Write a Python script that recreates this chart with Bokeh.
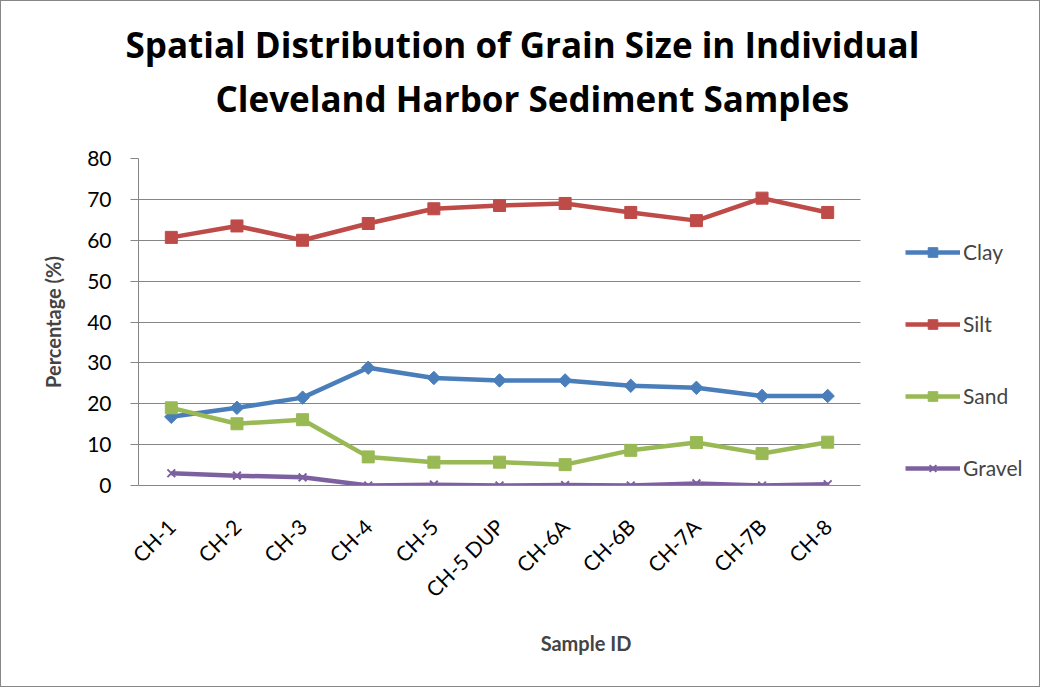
import math
from bokeh.plotting import figure
from bokeh.models import (Range1d, Legend, LegendItem, SingleIntervalTicker, FixedTicker, Title, Grid)
from bokeh.embed import file_html
from bokeh.resources import INLINE

samples = ["CH-1", "CH-2", "CH-3", "CH-4", "CH-5", "CH-5 DUP", "CH-6A", "CH-6B", "CH-7A", "CH-7B", "CH-8"]
clay = [16.8, 19.0, 21.5, 28.8, 26.3, 25.7, 25.7, 24.4, 23.9, 21.9, 21.9]
silt = [60.7, 63.5, 60.0, 64.1, 67.7, 68.5, 69.0, 66.8, 64.8, 70.3, 66.8]
sand = [19.0, 15.1, 16.1, 7.0, 5.7, 5.7, 5.1, 8.6, 10.5, 7.8, 10.6]
gravel = [3.0, 2.4, 2.0, 0.0, 0.2, 0.0, 0.1, 0.0, 0.5, 0.0, 0.3]

FONT = "Lato"
TFONT = "Open Sans"
GRID = "#868686"

W, H = 1040, 687
BL, BR, BT, BB = 137, 8, 157, 203
PLOT_W = 722                      # width of the category area in px
N = len(samples)
xpos = [i + 0.5 for i in range(N)]
x_end = N * (W - BL - BR) / PLOT_W  # frame extends right to hold the legend

p = figure(width=W, height=H, x_range=Range1d(0, x_end), y_range=Range1d(0, 80),
           output_backend="svg", toolbar_location=None,
           min_border_left=BL, min_border_right=BR, min_border_top=BT, min_border_bottom=BB)
p.styles = {"border": "1px solid #878787"}
p.outline_line_color = None
p.background_fill_color = "white"
p.border_fill_color = "white"

p.xgrid.grid_line_color = None
p.ygrid.grid_line_color = GRID
p.ygrid.grid_line_width = 1
if "cross_bounds" in Grid.properties():
    p.ygrid.cross_bounds = (0, N)
p.yaxis.ticker = SingleIntervalTicker(interval=10)
p.yaxis.minor_tick_line_color = None
p.yaxis.major_tick_in = 0
p.yaxis.major_tick_out = 8
p.yaxis.major_tick_line_color = GRID
p.yaxis.axis_line_color = GRID
p.yaxis.major_label_standoff = 19
p.yaxis.major_label_text_font = FONT
p.yaxis.major_label_text_font_size = "21px"
p.yaxis.major_label_text_color = "black"
p.yaxis.axis_label = "Percentage (%)"
p.yaxis.axis_label_text_font = FONT
p.yaxis.axis_label_text_font_style = "bold"
p.yaxis.axis_label_text_font_size = "20px"
p.yaxis.axis_label_standoff = 19

p.xaxis.ticker = FixedTicker(ticks=xpos)
p.xaxis.major_label_overrides = {x: s for x, s in zip(xpos, samples)}
p.xaxis.bounds = (0, N)
p.xaxis.axis_line_color = GRID
p.xaxis.major_tick_line_color = None
p.xaxis.minor_tick_line_color = None
p.xaxis.major_label_orientation = math.pi / 4
p.xaxis.major_label_text_font = FONT
p.xaxis.major_label_text_font_size = "21px"
p.xaxis.major_label_text_color = "black"
p.xaxis.major_label_standoff = 31
p.xaxis.axis_label = "Sample ID"
p.xaxis.axis_label_text_font = FONT
p.xaxis.axis_label_text_font_style = "bold"
p.xaxis.axis_label_text_font_size = "20px"
p.xaxis.axis_label_standoff = 18

series = [
    ("Clay", clay, "#4A7EBB", "square", 9.5, math.pi / 4),
    ("Silt", silt, "#BE4B48", "square", 12, 0),
    ("Sand", sand, "#98B954", "square", 12, 0),
    ("Gravel", gravel, "#7D60A0", "x", 11, 0),
]
items = []
for name, vals, col, mk, sz, ang in series:
    ln = p.line(xpos, vals, line_color=col, line_width=4.5)
    if mk == "x":
        sc = p.scatter(xpos, vals, marker=mk, size=sz, line_color=col, line_width=2)
    else:
        sc = p.scatter(xpos, vals, marker=mk, size=sz, angle=ang, fill_color=col, line_color=col)
    items.append(LegendItem(label=name, renderers=[ln, sc]))

legend = Legend(items=items, location=(767, 5), orientation="vertical",
                glyph_width=55, glyph_height=24, label_height=24, spacing=47,
                padding=0, margin=0, label_standoff=3,
                label_text_font=FONT, label_text_font_size="21px",
                border_line_color=None, background_fill_alpha=0)
p.add_layout(legend, "center")

# spacer between the frame and the two title lines
p.add_layout(Title(text=" ", text_font_size="31px", standoff=0), "above")
p.add_layout(Title(text="Cleveland Harbor Sediment Samples", align="left", offset=77,
                   vertical_align="bottom", standoff=0, text_font=TFONT,
                   text_font_style="bold", text_font_size="35px", text_color="black"), "above")
p.add_layout(Title(text="Spatial Distribution of Grain Size in Individual", align="left", offset=-13,
                   vertical_align="bottom", standoff=9, text_font=TFONT,
                   text_font_style="bold", text_font_size="35px", text_color="black"), "above")

open("out.html", "w").write(file_html(p, INLINE))
